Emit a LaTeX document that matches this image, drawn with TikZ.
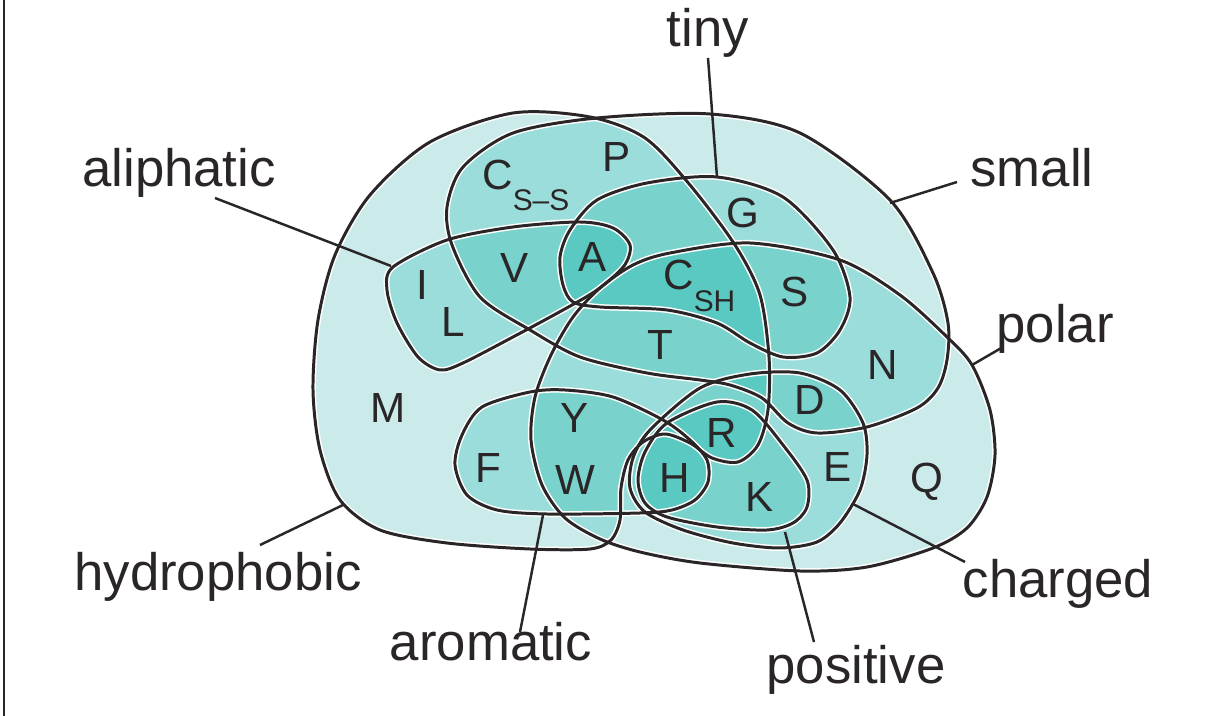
\documentclass[tikz,border=0pt]{standalone}
\usepackage{fontspec}
\setmainfont{Liberation Sans}
\definecolor{levA}{HTML}{CAEBEA}
\definecolor{levB}{HTML}{9ADDDA}
\definecolor{levC}{HTML}{79D3CC}
\definecolor{levD}{HTML}{59C9C1}
\definecolor{ink}{HTML}{2A2526}
% set outlines: 1 hydrophobic, 2 small, 3 tiny, 4 polar, 5 aliphatic, 6 aromatic, 7 charged, 8 positive
\expandafter\def\csname sp1\endcsname{plot[smooth cycle] coordinates {(513,113) (590,117) (645,138) (690,185) (735,245) (760,295) (769,357) (768,410) (758,445) (738,462) (712,458) (690,443) (665,434) (643,442) (628,460) (621,488) (620,520) (611,540) (590,549) (530,549) (447,543) (380,530) (340,500) (320,450) (313,390) (318,320) (335,255) (370,195) (430,142)}}
\expandafter\def\csname sp2\endcsname{plot[smooth cycle] coordinates {(452,245) (447,207) (463,167) (513,133) (597,118) (710,114) (800,133) (890,200) (933,273) (948,323) (947,360) (938,388) (917,408) (867,427) (817,433) (788,423) (762,398) (730,385) (700,380) (647,373) (580,357) (530,330) (480,297)}}
\expandafter\def\csname sp3\endcsname{plot[smooth cycle] coordinates {(560,257) (570,230) (597,200) (647,183) (717,177) (783,197) (833,250) (850,297) (840,330) (817,353) (783,357) (750,343) (717,323) (667,310) (600,307) (573,302) (563,285)}}
\expandafter\def\csname sp4\endcsname{plot[smooth cycle] coordinates {(573,317) (600,288) (633,265) (670,253) (750,243) (840,260) (900,295) (947,337) (972,365) (990,410) (995,455) (987,497) (967,528) (933,548) (867,567) (800,571) (700,563) (640,552) (600,539) (565,518) (542,485) (531,440) (535,397) (551,355)}}
\expandafter\def\csname sp5\endcsname{plot[smooth cycle] coordinates {(393,267) (447,240) (513,227) (580,222) (613,228) (630,245) (624,266) (597,290) (563,310) (513,337) (463,363) (440,370) (418,357) (397,323) (387,290)}}
\expandafter\def\csname sp6\endcsname{plot[smooth cycle] coordinates {(455,465) (462,435) (482,407) (530,392) (565,390) (613,397) (663,420) (690,440) (707,460) (708,482) (695,500) (672,510) (640,513) (547,514) (497,510) (467,495)}}
\expandafter\def\csname sp7\endcsname{plot[smooth cycle] coordinates {(650,430) (700,388) (750,374) (800,373) (840,390) (863,423) (867,455) (860,490) (840,523) (817,542) (780,548) (733,543) (683,530) (645,512) (630,488) (633,458)}}
\expandafter\def\csname sp8\endcsname{plot[smooth cycle] coordinates {(667,423) (717,402) (752,410) (783,445) (807,480) (807,507) (793,523) (767,530) (717,527) (667,517) (645,503) (638,480) (645,452)}}
\newcommand\clipsetpath[1]{\edef\tmpcmd{\noexpand\clip \csname sp#1\endcsname;}\tmpcmd}
\newcommand\usesetpath[2]{\edef\tmpcmd{\noexpand\path[#2] \csname sp#1\endcsname;}\tmpcmd}
\newcommand\fillall[1]{\fill[#1] (0,0) rectangle (1215,716);}
\begin{document}
\begin{tikzpicture}[x=0.02cm,y=-0.02cm,
  lbl/.style={font=\fontsize{30}{34}\selectfont, text=ink, inner sep=0pt, anchor=base},
  aa/.style={font=\fontsize{24}{28}\selectfont, text=ink, inner sep=0pt},
  ptr/.style={draw=ink, line width=1.4pt}]
\useasboundingbox (0,0) rectangle (1215,716);
\fill[white] (0,0) rectangle (1215,716);
\draw[ink, line width=1.2pt] (4,0) -- (4,716);
% level 1
\foreach \i in {1,...,8}{\usesetpath{\i}{fill=levA}}
% level 2
\foreach \i in {1,...,8}{\foreach \j in {1,...,8}{\ifnum\j>\i\relax
  \begin{scope}\clipsetpath{\i}\clipsetpath{\j}\fillall{levB}\end{scope}\fi}}
% level 3
\foreach \i in {1,...,8}{\foreach \j in {1,...,8}{\ifnum\j>\i\relax\foreach \k in {1,...,8}{\ifnum\k>\j\relax
  \begin{scope}\clipsetpath{\i}\clipsetpath{\j}\clipsetpath{\k}\fillall{levC}\end{scope}\fi}\fi}}
% level 4
\foreach \i in {1,...,8}{\foreach \j in {1,...,8}{\ifnum\j>\i\relax\foreach \k in {1,...,8}{\ifnum\k>\j\relax\foreach \m in {1,...,8}{\ifnum\m>\k\relax
  \begin{scope}\clipsetpath{\i}\clipsetpath{\j}\clipsetpath{\k}\clipsetpath{\m}\fillall{levD}\end{scope}\fi}\fi}\fi}}
% outlines
\foreach \i in {1,...,8}{\usesetpath{\i}{draw=white,line width=3.4pt}}
\foreach \i in {1,...,8}{\usesetpath{\i}{draw=ink,line width=1.7pt}}
% amino acid letters
\node[aa] (P) at (617,157) {P};
\node[aa] (G) at (743,213) {G};
\node[aa] (I) at (422,285) {I};
\node[aa] (V) at (515,268) {V};
\node[aa] (A) at (593,257) {A};
\node[aa] (S) at (795,292) {S};
\node[aa] (L) at (453,322) {L};
\node[aa] (T) at (660,345) {T};
\node[aa] (N) at (883,365) {N};
\node[aa] (M) at (388,408) {M};
\node[aa] (D) at (810,400) {D};
\node[aa] (Y) at (575,418) {Y};
\node[aa] (R) at (722,433) {R};
\node[aa] (F) at (488,468) {F};
\node[aa] (W) at (575,480) {W};
\node[aa] (H) at (675,478) {H};
\node[aa] (E) at (838,467) {E};
\node[aa] (Q) at (927,482) {Q};
\node[aa] (K) at (760,497) {K};
\node[aa, anchor=base west] (Css) at (482,190) {C\raisebox{-11.5pt}{\fontsize{17}{20}\selectfont S–S}};
\node[aa, anchor=base west] (Csh) at (663,290) {C\raisebox{-12.5pt}{\fontsize{17}{20}\selectfont SH}};
% labels
\node[lbl] (tiny) at (708,47) {tiny};
\node[lbl] (small) at (1032,187) {small};
\node[lbl] (aliphatic) at (179,187) {aliphatic};
\node[lbl] (polar) at (1055,343) {polar};
\node[lbl] (hydrophobic) at (218,590) {hydrophobic};
\node[lbl] (charged) at (1058,598) {charged};
\node[lbl] (aromatic) at (491,660) {aromatic};
\node[lbl] (positive) at (856,683) {positive};
% pointer ends
\coordinate (tinyA) at (708,58);   \coordinate (tinyB) at (717,177);
\coordinate (smallA) at (957,182); \coordinate (smallB) at (890,203);
\coordinate (aliA) at (215,198);   \coordinate (aliB) at (391,266);
\coordinate (polA) at (1003,347);  \coordinate (polB) at (972,365);
\coordinate (hydA) at (260,545);   \coordinate (hydB) at (343,505);
\coordinate (chaA) at (965,562);   \coordinate (chaB) at (853,504);
\coordinate (aroA) at (520,632);   \coordinate (aroB) at (543,515);
\coordinate (posA) at (814,642);   \coordinate (posB) at (785,532);
\draw[ptr] (tinyA) -- (tinyB);
\draw[ptr] (smallA) -- (smallB);
\draw[ptr] (aliA) -- (aliB);
\draw[ptr] (polA) -- (polB);
\draw[ptr] (hydA) -- (hydB);
\draw[ptr] (chaA) -- (chaB);
\draw[ptr] (aroA) -- (aroB);
\draw[ptr] (posA) -- (posB);
\end{tikzpicture}
\end{document}
